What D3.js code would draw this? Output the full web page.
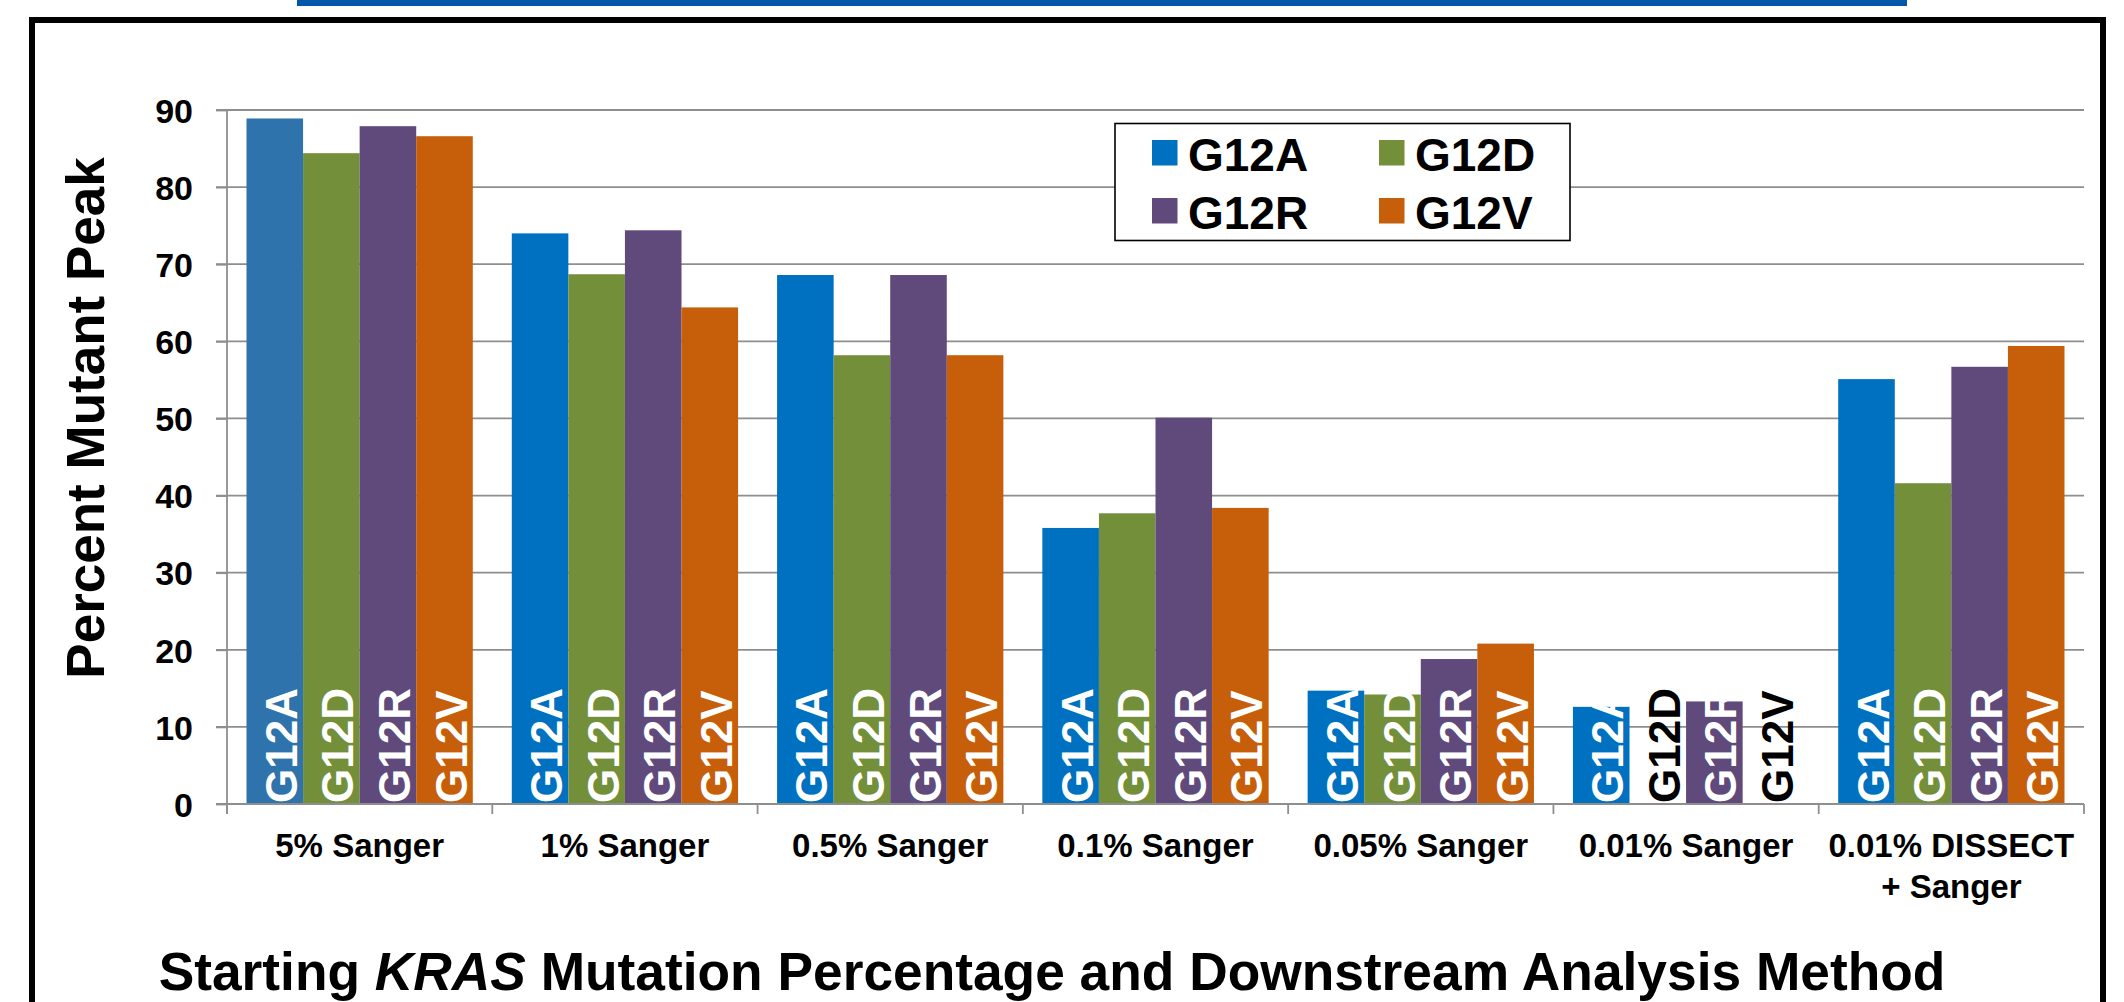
<!DOCTYPE html>
<html>
<head>
<meta charset="utf-8">
<script src="https://cdn.jsdelivr.net/npm/d3@7"></script>
<style>
  html, body { margin: 0; padding: 0; background: #fff; }
  svg { display: block; }
  text { font-family: "Liberation Sans", Arial, Helvetica, sans-serif; font-weight: bold; }
</style>
</head>
<body>
<svg id="chart" width="2124" height="1002"></svg>
<script>
// ---- data ----
const categories = [
  ["5% Sanger"], ["1% Sanger"], ["0.5% Sanger"], ["0.1% Sanger"],
  ["0.05% Sanger"], ["0.01% Sanger"], ["0.01% DISSECT", "+ Sanger"]
];
const seriesNames = ["G12A", "G12D", "G12R", "G12V"];
const G12A = [88.9, 74.0, 68.6, 35.8, 14.7, 12.6, 55.1];
const G12D = [84.4, 68.7, 58.2, 37.7, 14.2, 0, 41.6];
const G12R = [87.9, 74.4, 68.6, 50.1, 18.8, 13.3, 56.7];
const G12V = [86.6, 64.4, 58.2, 38.4, 20.8, 0, 59.4];
const yTicks = [0, 10, 20, 30, 40, 50, 60, 70, 80, 90];
const yTitle = "Percent Mutant Peak";

// ---- styles ----
const colors = { G12A: "#0070C0", G12D: "#738F3A", G12R: "#604A7B", G12V: "#C65E0A" };
const firstBarColor = "#2E73AB";

const values = { G12A, G12D, G12R, G12V };
const catKeys = categories.map(c => c.join(" "));

const svg = d3.select("#chart");

// top blue strip
svg.append("rect").attr("x", 297).attr("y", 0).attr("width", 1610).attr("height", 6).attr("fill", "#0058A8");
// black frame
svg.append("rect").attr("x", 32).attr("y", 20).attr("width", 2071).attr("height", 1100)
  .attr("fill", "none").attr("stroke", "#000").attr("stroke-width", 6);

const plotL = 227, plotR = 2084, plotT = 110, plotB = 804;
const x0 = d3.scaleBand().domain(catKeys).range([plotL, plotR]).padding(0);
const bw = x0.bandwidth();
const x1 = d3.scaleBand().domain(seriesNames).range([19.5, bw - 19.5]).padding(0);
const y = d3.scaleLinear().domain([0, 90]).range([plotB, plotT]);

// gridlines
svg.append("g").selectAll("line").data(yTicks).join("line")
  .attr("x1", plotL - 11).attr("x2", plotR)
  .attr("y1", d => y(d)).attr("y2", d => y(d))
  .attr("stroke", "#8e8e8e").attr("stroke-width", 1.8);

// y axis
const yAxis = d3.axisLeft(y).tickValues(yTicks).tickSize(11).tickPadding(23);
const gy = svg.append("g").attr("transform", `translate(${plotL},0)`).call(yAxis);
gy.select(".domain").attr("stroke", "#8e8e8e").attr("stroke-width", 1.8).attr("d", `M0,${plotT}V${plotB + 10}`);
gy.selectAll(".tick line").attr("stroke", "#8e8e8e").attr("stroke-width", 1.8);
gy.selectAll(".tick text").attr("font-size", 34).attr("fill", "#000")
  .attr("font-family", '"Liberation Sans", Arial, sans-serif').attr("font-weight", "bold")
  .attr("dy", "0.36em");

// x axis ticks at boundaries
const boundaries = catKeys.map(k => x0(k)).concat([plotR]);
svg.append("g").selectAll("line").data(boundaries).join("line")
  .attr("x1", d => d).attr("x2", d => d).attr("y1", plotB).attr("y2", plotB + 10)
  .attr("stroke", "#8e8e8e").attr("stroke-width", 1.8);

// bars
const groups = svg.append("g").selectAll("g").data(catKeys).join("g")
  .attr("transform", d => `translate(${x0(d)},0)`);

groups.each(function(cat, ci) {
  const g = d3.select(this);
  seriesNames.forEach(s => {
    const v = values[s][ci];
    const fill = (ci === 0 && s === "G12A") ? firstBarColor : colors[s];
    if (v > 0) {
      g.append("rect")
        .attr("x", x1(s)).attr("width", x1.bandwidth())
        .attr("y", y(v)).attr("height", y(0) - y(v))
        .attr("fill", fill);
    }
  });
  seriesNames.forEach(s => {
    const v = values[s][ci];
    const cx = x1(s) + x1.bandwidth() / 2 + 22;
    g.append("text")
      .attr("transform", `translate(${cx},${plotB - 1}) rotate(-90)`)
      .attr("text-anchor", "start")
      .attr("font-size", 44)
      .attr("fill", v > 0 ? "#fff" : "#000")
      .text(s);
  });
});

// baseline on top of bars
svg.append("line").attr("x1", plotL - 11).attr("x2", plotR).attr("y1", plotB).attr("y2", plotB)
  .attr("stroke", "#8e8e8e").attr("stroke-width", 1.8);

// x category labels
svg.append("g").selectAll("text").data(categories).join("text")
  .attr("x", (d, i) => x0(catKeys[i]) + bw / 2)
  .attr("y", 857)
  .attr("text-anchor", "middle")
  .attr("font-size", 33)
  .attr("fill", "#000")
  .each(function(d) {
    const t = d3.select(this);
    d.forEach((line, li) => {
      t.append("tspan").attr("x", t.attr("x")).attr("dy", li === 0 ? 0 : 41).text(line);
    });
  });

// y title
svg.append("text")
  .attr("transform", "translate(104,418) rotate(-90)")
  .attr("text-anchor", "middle")
  .attr("font-size", 53)
  .attr("fill", "#000")
  .text(yTitle);

// x title
const xt = svg.append("text").attr("x", 1052).attr("y", 990).attr("text-anchor", "middle")
  .attr("font-size", 53.3).attr("fill", "#000");
xt.append("tspan").text("Starting ");
xt.append("tspan").attr("font-style", "italic").text("KRAS");
xt.append("tspan").text(" Mutation Percentage and Downstream Analysis Method");

// legend
const lg = svg.append("g");
lg.append("rect").attr("x", 1115).attr("y", 123.5).attr("width", 455).attr("height", 117)
  .attr("fill", "#fff").attr("stroke", "#000").attr("stroke-width", 1.6);
const legendPos = [
  { s: "G12A", x: 1152, y: 140 },
  { s: "G12D", x: 1379, y: 140 },
  { s: "G12R", x: 1152, y: 198 },
  { s: "G12V", x: 1379, y: 198 }
];
legendPos.forEach(p => {
  lg.append("rect").attr("x", p.x).attr("y", p.y).attr("width", 25.5).attr("height", 25.5).attr("fill", colors[p.s]);
  lg.append("text").attr("x", p.x + 36).attr("y", p.y + 31).attr("font-size", 46).attr("fill", "#000").text(p.s);
});
</script>
</body>
</html>
